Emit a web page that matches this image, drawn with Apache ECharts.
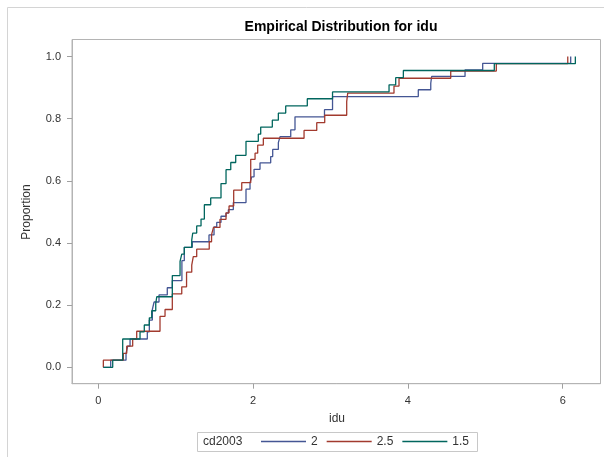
<!DOCTYPE html>
<html><head><meta charset="utf-8">
<script src="https://cdn.jsdelivr.net/npm/echarts@6/dist/echarts.min.js"></script>
<style>html,body{margin:0;padding:0;background:#fff}#c{width:604px;height:457px}</style>
</head><body><div id="c"></div>
<script>
const FONT = "'Liberation Sans', Arial, sans-serif";
const groups = ['2', '2.5', '1.5'];
const colors = ['#445694', '#A23A2E', '#01665E'];
const xTicks = [0, 2, 4, 6];
const yTicks = [0, 0.2, 0.4, 0.6, 0.8, 1.0];

// cd2003 = 2
const idu_2 = [0.065, 0.160, 0.358, 0.380, 0.410, 0.633, 0.659, 0.698, 0.720, 0.784, 0.891, 0.956, 1.080, 1.111, 1.214, 1.430, 1.495, 1.530, 1.585, 1.650, 1.680, 1.744, 1.908, 1.960, 1.982, 2.012, 2.089, 2.227, 2.253, 2.326, 2.348, 2.486, 2.541, 2.922, 3.026, 4.134, 4.295, 4.307, 4.738, 4.966, 6.103];
const prop_2 = [0, 0.023, 0.045, 0.068, 0.091, 0.114, 0.152, 0.186, 0.210, 0.233, 0.256, 0.279, 0.343, 0.386, 0.404, 0.426, 0.452, 0.466, 0.486, 0.496, 0.507, 0.530, 0.573, 0.594, 0.613, 0.637, 0.658, 0.678, 0.701, 0.723, 0.742, 0.764, 0.806, 0.829, 0.871, 0.893, 0.914, 0.936, 0.957, 0.978, 1.0];

// cd2003 = 2.5
const idu_25 = [0.065, 0.065, 0.323, 0.367, 0.444, 0.496, 0.797, 0.862, 0.956, 1.078, 1.140, 1.207, 1.227, 1.271, 1.433, 1.463, 1.488, 1.572, 1.650, 1.689, 1.749, 1.853, 1.969, 2.025, 2.059, 2.132, 2.658, 2.822, 2.925, 3.209, 3.222, 3.820, 3.885, 4.553, 5.142, 6.065];
const prop_25 = [0, 0.023, 0.045, 0.068, 0.091, 0.116, 0.164, 0.186, 0.236, 0.259, 0.306, 0.329, 0.356, 0.380, 0.404, 0.427, 0.450, 0.476, 0.497, 0.519, 0.570, 0.594, 0.669, 0.689, 0.715, 0.737, 0.762, 0.787, 0.811, 0.855, 0.882, 0.905, 0.930, 0.953, 0.977, 1.0];

// cd2003 = 1.5
const idu_15 = [0.065, 0.186, 0.315, 0.539, 0.594, 0.659, 0.690, 0.742, 0.755, 0.956, 1.056, 1.078, 1.111, 1.207, 1.220, 1.271, 1.327, 1.370, 1.452, 1.585, 1.650, 1.711, 1.775, 1.908, 2.067, 2.098, 2.248, 2.326, 2.421, 2.700, 3.026, 3.756, 3.842, 3.941, 5.116, 6.163];
const prop_15 = [0, 0.023, 0.091, 0.114, 0.136, 0.159, 0.182, 0.205, 0.227, 0.295, 0.341, 0.364, 0.386, 0.409, 0.432, 0.455, 0.477, 0.523, 0.545, 0.591, 0.636, 0.659, 0.682, 0.727, 0.750, 0.773, 0.795, 0.818, 0.841, 0.864, 0.886, 0.909, 0.932, 0.955, 0.977, 1.0];

const xs = [idu_2, idu_25, idu_15];
const ys = [prop_2, prop_25, prop_15];

const chart = echarts.init(document.getElementById('c'), null, {renderer: 'canvas'});
chart.setOption({
  animation: false,
  backgroundColor: '#fff',
  title: {
    text: 'Empirical Distribution for idu',
    left: 336, top: 15, textAlign: 'center',
    textStyle: {fontFamily: FONT, fontSize: 14, fontWeight: 'bold', color: '#000'}
  },
  grid: {left: 72, right: 3.5, top: 39.5, bottom: 73.3, show: true, borderColor: '#b4b4b4', borderWidth: 1, backgroundColor: 'transparent'},
  xAxis: {
    type: 'value', min: -0.34, max: 6.488,
    axisLine: {show: true, onZero: false, lineStyle: {color: '#b4b4b4'}},
    axisTick: {show: true, inside: false, length: 5, lineStyle: {color: '#a0a0a0'}, customValues: xTicks},
    axisLabel: {customValues: xTicks, margin: 12, color: '#333', fontFamily: FONT, fontSize: 11},
    splitLine: {show: false}
  },
  yAxis: {
    type: 'value', min: -0.0528, max: 1.0547,
    axisLine: {show: true, onZero: false, lineStyle: {color: '#b4b4b4'}},
    axisTick: {show: true, inside: false, length: 5, lineStyle: {color: '#a0a0a0'}, customValues: yTicks},
    axisLabel: {customValues: yTicks, margin: 11, color: '#333', fontFamily: FONT, fontSize: 11,
      formatter: v => Number(v).toFixed(1)},
    splitLine: {show: false}
  },
  legend: {
    data: groups, left: 261, top: 435.5, padding: 0, icon: 'rect', itemWidth: 45, itemHeight: 1.3, itemGap: 9,
    textStyle: {fontFamily: FONT, fontSize: 12, color: '#333'}
  },
  graphic: [
    {type: 'rect', shape: {x: 7.5, y: 7.5, width: 700, height: 600}, style: {fill: 'none', stroke: '#d4d4d4', lineWidth: 1}, silent: true},
    {type: 'rect', shape: {x: 197.5, y: 432.5, width: 280, height: 19}, style: {fill: 'none', stroke: '#c8c8c8', lineWidth: 1}, silent: true},
    {type: 'text', x: 203, y: 442, style: {text: 'cd2003', fill: '#333', font: '12px ' + FONT, verticalAlign: 'middle'}},
    {type: 'text', x: 337, y: 419, style: {text: 'idu', fill: '#333', font: '12px ' + FONT, align: 'center', verticalAlign: 'middle'}},
    {type: 'text', x: 27, y: 212, rotation: Math.PI / 2, style: {text: 'Proportion', fill: '#333', font: '12px ' + FONT, align: 'center', verticalAlign: 'middle'}}
  ],
  series: groups.map((g, i) => ({
    name: g, type: 'line', step: 'end', symbol: 'none', showSymbol: false,
    color: colors[i],
    lineStyle: {color: colors[i], width: 1.3},
    data: xs[i].map((x, j) => [x, ys[i][j]])
  }))
});
</script>
</body></html>
